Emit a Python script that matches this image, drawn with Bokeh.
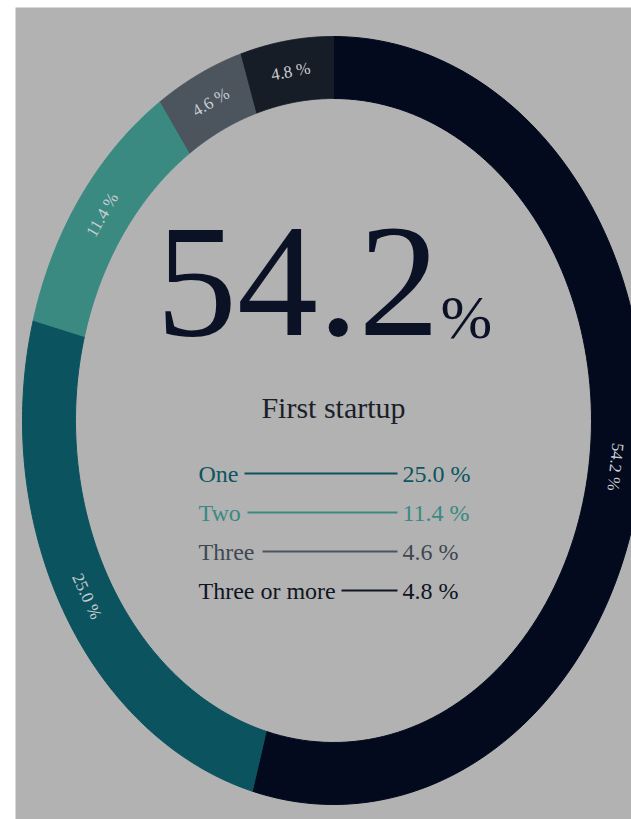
import numpy as np
from bokeh.plotting import figure
from bokeh.models import Range1d
from bokeh.core.properties import value
from bokeh.embed import file_html
from bokeh.resources import INLINE

# ---- data ----
categories = ["First startup", "One", "Two", "Three", "Three or more"]
shares = [54.2, 25.0, 11.4, 4.6, 4.8]
ring_labels = ["54.2 %", "25.0 %", "11.4 %", "4.6 %", "4.8 %"]
seg_colors = ["#030a1d", "#0b535e", "#3a8a82", "#4c545d", "#171d27"]
legend_names = ["One", "Two", "Three", "Three or more"]
legend_values = ["25.0 %", "11.4 %", "4.6 %", "4.8 %"]
legend_colors = ["#0d5560", "#3a8a82", "#3f4852", "#0f1522"]
line_colors = ["#0b535e", "#3a8a82", "#4c545d", "#0f1522"]
headline = "54.2"
headline_label = "First startup"

FONT = value("Liberation Serif")

# ---- layout (page px; y_data = 819 - y_page) ----
W, H = 631, 819
p = figure(width=W, height=H, output_backend="svg", toolbar_location=None,
           x_axis_location=None, y_axis_location=None,
           x_range=Range1d(15, 631), y_range=Range1d(0, 812),
           min_border_left=15, min_border_right=0, min_border_top=7, min_border_bottom=0)
p.grid.visible = False
p.outline_line_color = None
p.background_fill_color = "#b2b2b2"
p.border_fill_color = "#ffffff"


def yb(page_baseline, size):
    # baseline correction for svg text
    return 819 - page_baseline + 0.35 * size


cx, cy = 333, 819 - 420
rx_out, ry_out = 311, 384
rx_in, ry_in = 258, 322

cum = np.concatenate([[0], np.cumsum(shares)])
total = cum[-1]
xs, ys = [], []
for i in range(len(shares)):
    t = np.radians(np.linspace(cum[i] / total * 360, cum[i + 1] / total * 360, 120))
    ox = cx + rx_out * np.sin(t); oy = cy + ry_out * np.cos(t)
    ix = cx + rx_in * np.sin(t[::-1]); iy = cy + ry_in * np.cos(t[::-1])
    xs.append(np.concatenate([ox, ix]).tolist())
    ys.append(np.concatenate([oy, iy]).tolist())
p.patches(xs=xs, ys=ys, fill_color=seg_colors, line_color=seg_colors, line_width=1)

# ring labels
rxm, rym = (rx_out + rx_in) / 2, (ry_out + ry_in) / 2
lx, ly, la = [], [], []
for i in range(len(shares)):
    tm = (cum[i] + cum[i + 1]) / 2 / total * 360
    tr = np.radians(tm)
    lx.append(cx + rxm * np.sin(tr)); ly.append(cy + rym * np.cos(tr))
    ang = np.arctan2(-rym * np.sin(tr), rxm * np.cos(tr))
    if 120 < tm < 270:
        ang += np.pi
    la.append(ang)
p.text(x=lx, y=ly, text=ring_labels, angle=la, text_align="center", text_baseline="middle",
       text_font=FONT, text_font_size="17px", text_color="#c9cdd1")

# headline
BIG = 162
p.text(x=[439], y=[yb(338, BIG)], text=[headline], text_align="right", text_baseline="alphabetic",
       text_font=FONT, text_font_size=f"{BIG}px", text_color="#0b1226")
p.text(x=[440], y=[yb(338, 62)], text=["%"], text_align="left", text_baseline="alphabetic",
       text_font=FONT, text_font_size="62px", text_color="#0b1226")
p.text(x=[333], y=[yb(417, 30)], text=[headline_label], text_align="center", text_baseline="alphabetic",
       text_font=FONT, text_font_size="30px", text_color="#1a1f2a")

# legend rows
baselines = [482, 521, 560, 599]
line_starts = [244, 247, 262, 341]
line_end = 397
for i in range(len(legend_names)):
    b = baselines[i]
    p.text(x=[198], y=[yb(b, 24)], text=[legend_names[i]], text_align="left", text_baseline="alphabetic",
           text_font=FONT, text_font_size="24px", text_color=legend_colors[i])
    p.text(x=[402], y=[yb(b, 24)], text=[legend_values[i]], text_align="left", text_baseline="alphabetic",
           text_font=FONT, text_font_size="24px", text_color=legend_colors[i])
    p.line(x=[line_starts[i], line_end], y=[819 - b + 9, 819 - b + 9], line_color=line_colors[i],
           line_width=2)

open("out.html", "w").write(file_html(p, INLINE))
